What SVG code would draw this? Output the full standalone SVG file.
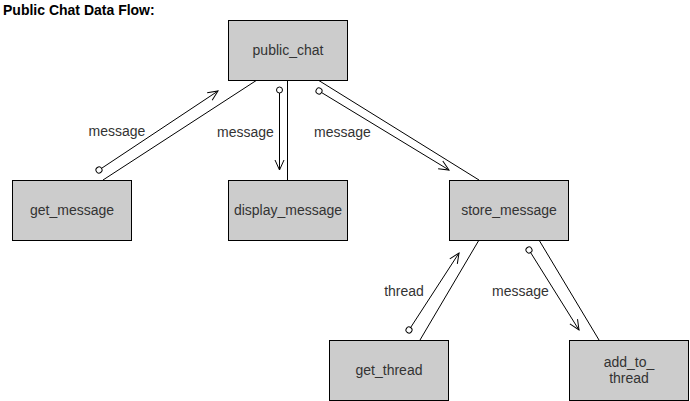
<svg xmlns="http://www.w3.org/2000/svg" width="690" height="401" viewBox="0 0 690 401">
<style>
text{font-family:"Liberation Sans",Arial,sans-serif;font-size:14px;fill:#333}
.box rect{fill:#cccccc;stroke:#000;stroke-width:1}
.box text{text-anchor:middle}
.lbl{text-anchor:middle}
.title{font-weight:bold;fill:#000}
#connectors line{stroke:#000;stroke-width:1;fill:none}
#connectors .flow{marker-start:url(#dot);marker-end:url(#arrow)}
</style>
<defs>
<marker id="arrow" markerUnits="userSpaceOnUse" markerWidth="14" markerHeight="14" refX="11" refY="7" orient="auto" viewBox="0 0 14 14">
<path d="M1,2.5 L11,7 L1,11.5" fill="none" stroke="#000" stroke-width="1"/>
</marker>
<marker id="dot" markerUnits="userSpaceOnUse" markerWidth="10" markerHeight="10" refX="5" refY="5" orient="auto" viewBox="0 0 10 10">
<circle cx="5" cy="5" r="3" fill="#fff" stroke="#000" stroke-width="1"/>
</marker>
</defs>
<rect width="690" height="401" fill="#fff"/>
<text class="title" x="3" y="15">Public Chat Data Flow:</text>
<g id="connectors">
<line x1="103" y1="180" x2="257" y2="80"/>
<line class="flow" x1="99" y1="170" x2="218" y2="91"/>
<line x1="287.5" y1="80" x2="287.5" y2="180"/>
<line class="flow" x1="279.5" y1="90" x2="279.5" y2="170"/>
<line x1="318" y1="80" x2="479" y2="180"/>
<line class="flow" x1="319" y1="91" x2="449" y2="170"/>
<line x1="479" y1="240" x2="420" y2="340"/>
<line class="flow" x1="409" y1="330" x2="459" y2="253"/>
<line x1="539" y1="240" x2="599" y2="340"/>
<line class="flow" x1="529" y1="250" x2="579" y2="330"/>
<text class="lbl" x="117" y="136">message</text>
<text class="lbl" x="245.5" y="137">message</text>
<text class="lbl" x="342.5" y="137">message</text>
<text class="lbl" x="404" y="296">thread</text>
<text class="lbl" x="520.5" y="296">message</text>
</g>
<g id="public_chat" class="box"><rect x="228.5" y="20.5" width="119" height="60"/><text x="288" y="55">public_chat</text></g>
<g id="get_message" class="box"><rect x="12.5" y="180.5" width="119" height="60"/><text x="72" y="215">get_message</text></g>
<g id="display_message" class="box"><rect x="228.5" y="180.5" width="119" height="60"/><text x="288" y="215">display_message</text></g>
<g id="store_message" class="box"><rect x="449.5" y="180.5" width="119" height="60"/><text x="509" y="215">store_message</text></g>
<g id="get_thread" class="box"><rect x="329.5" y="340.5" width="119" height="60"/><text x="389" y="375">get_thread</text></g>
<g id="add_to_thread" class="box"><rect x="569.5" y="340.5" width="119" height="60"/><text x="629" y="367">add_to_</text><text x="629" y="383">thread</text></g>
</svg>
